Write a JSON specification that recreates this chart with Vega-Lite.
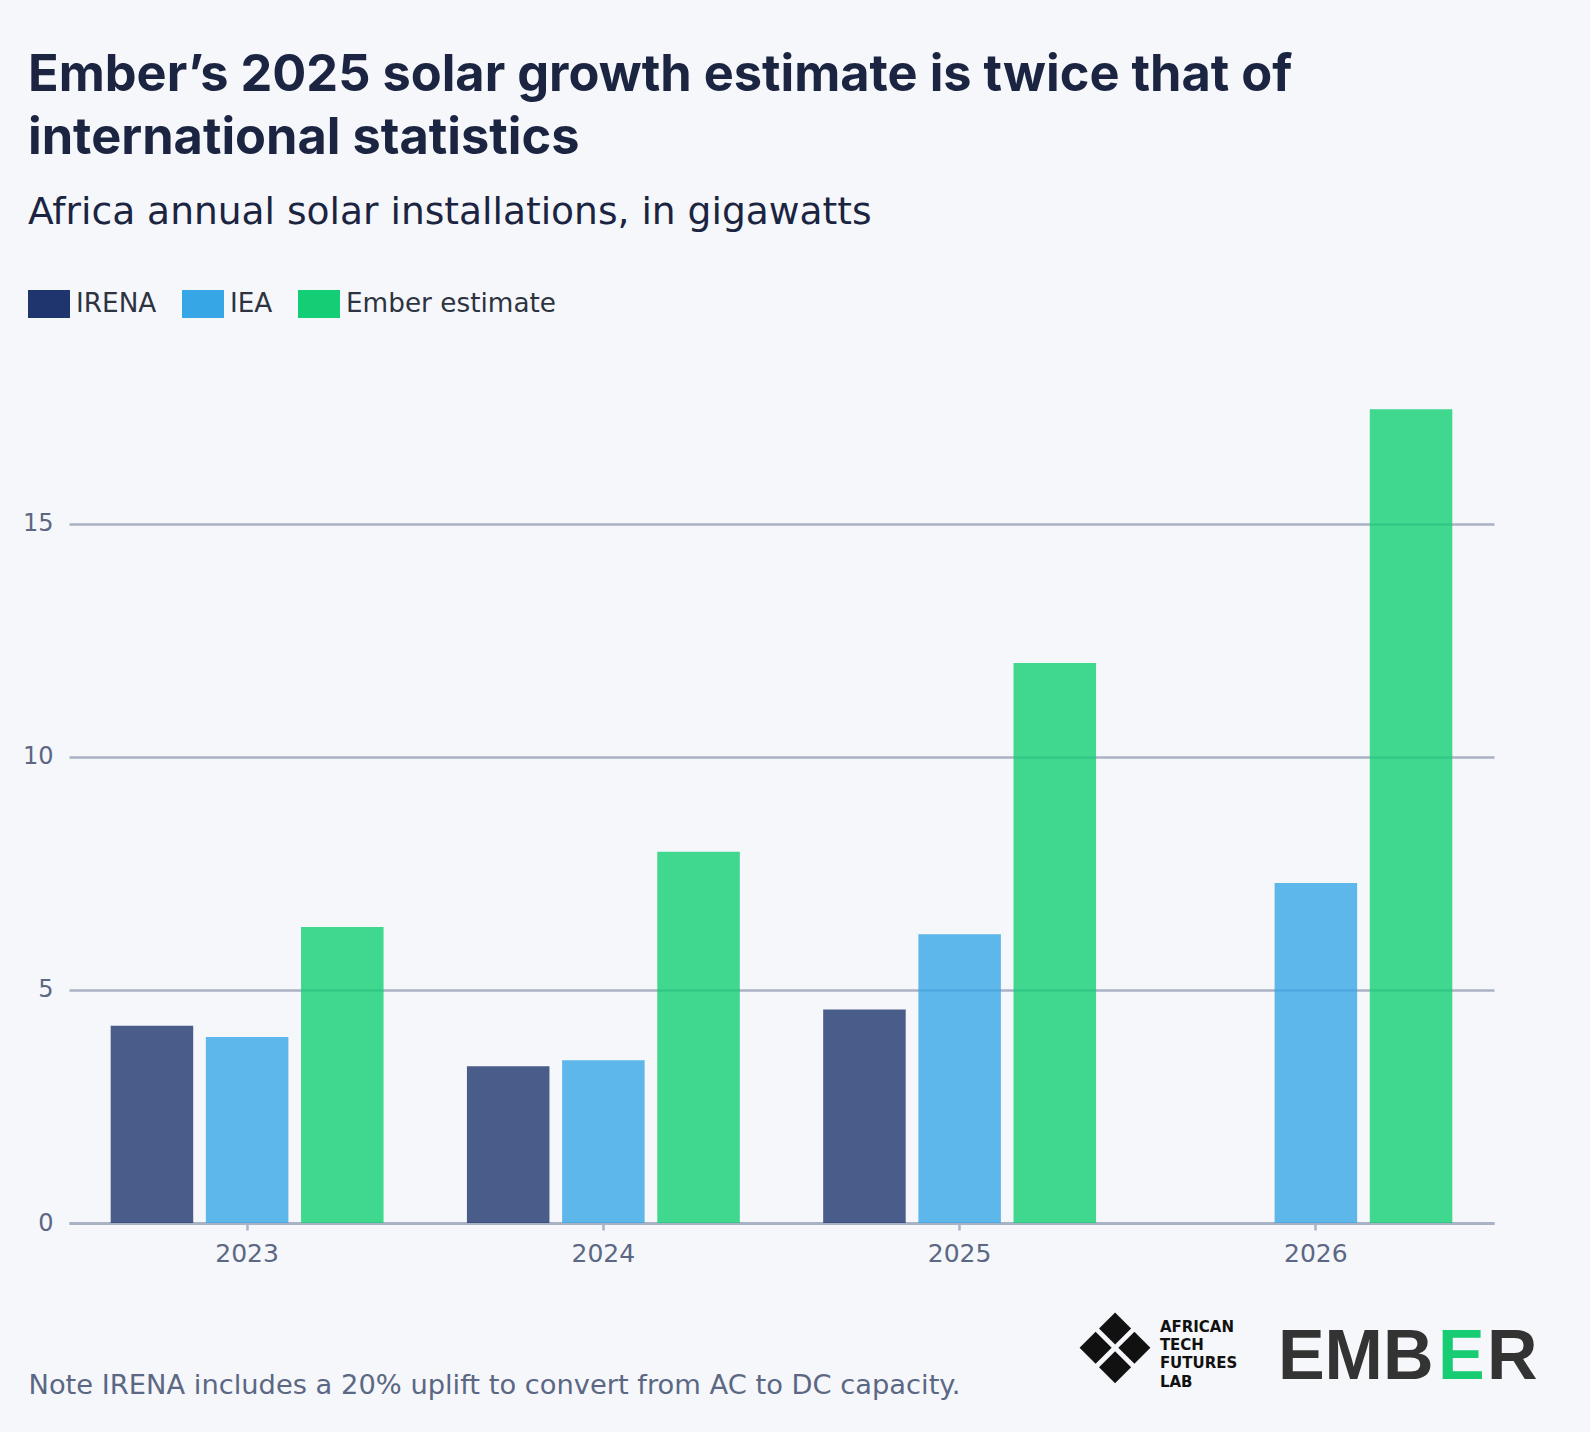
{
  "$schema": "https://vega.github.io/schema/vega-lite/v6.json",
  "autosize": {"type": "none"},
  "width": 1425,
  "height": 816,
  "padding": {"left": 69, "top": 407, "right": 96, "bottom": 209},
  "background": "#f5f7fb",
  "config": {
    "view": {"stroke": null},
    "font": "DejaVu Sans"
  },
  "title": {
    "text": ["Ember’s 2025 solar growth estimate is twice that of", "international statistics"],
    "subtitle": "Africa annual solar installations, in gigawatts",
    "anchor": "start",
    "frame": "group",
    "dx": -41,
    "offset": 58,
    "font": "Inter",
    "fontSize": 50.5,
    "fontWeight": 700,
    "color": "#1b2440",
    "lineHeight": 63,
    "subtitleFont": "DejaVu Sans",
    "subtitleFontSize": 37.6,
    "subtitleFontWeight": 400,
    "subtitleColor": "#1b2440",
    "subtitlePadding": 30
  },
  "layer": [
    {
      "data": {"values": [
        {"year": "2023", "source": "IRENA", "gw": 4.23},
        {"year": "2023", "source": "IEA", "gw": 3.99},
        {"year": "2023", "source": "Ember estimate", "gw": 6.35},
        {"year": "2024", "source": "IRENA", "gw": 3.36},
        {"year": "2024", "source": "IEA", "gw": 3.49},
        {"year": "2024", "source": "Ember estimate", "gw": 7.96},
        {"year": "2025", "source": "IRENA", "gw": 4.58},
        {"year": "2025", "source": "IEA", "gw": 6.19},
        {"year": "2025", "source": "Ember estimate", "gw": 12.01},
        {"year": "2026", "source": "IEA", "gw": 7.29},
        {"year": "2026", "source": "Ember estimate", "gw": 17.45}
      ]},
      "mark": {"type": "bar", "opacity": 0.8},
      "encoding": {
        "x": {
          "field": "year", "type": "nominal",
          "scale": {"paddingInner": 0.234, "paddingOuter": 0.117},
          "axis": {
            "title": "Note IRENA includes a 20% uplift to convert from AC to DC capacity.",
            "titleAnchor": "start", "titleAlign": "left", "titleBaseline": "alphabetic",
            "titleX": -41, "titleY": 170,
            "titleFont": "DejaVu Sans", "titleFontSize": 27.3, "titleFontWeight": 400, "titleColor": "#5c6784",
            "labelAngle": 0, "labelFont": "DejaVu Sans", "labelFontSize": 25, "labelColor": "#5c6784",
            "labelPadding": 11,
            "domain": true, "domainColor": "#aab2c5", "domainWidth": 3,
            "ticks": true, "tickColor": "#aab2c5", "tickWidth": 2.5, "tickSize": 7,
            "grid": false
          }
        },
        "xOffset": {
          "field": "source", "type": "nominal",
          "sort": ["IRENA", "IEA", "Ember estimate"],
          "scale": {"paddingInner": 0.133, "paddingOuter": 0}
        },
        "y": {
          "field": "gw", "type": "quantitative",
          "scale": {"domain": [0, 17.5], "nice": false, "zero": true},
          "axis": {
            "title": null, "values": [0, 5, 10, 15],
            "domain": false, "ticks": false,
            "grid": true, "gridColor": "#aab2c5", "gridWidth": 2.5,
            "labelFont": "DejaVu Sans", "labelFontSize": 24, "labelColor": "#5c6784", "labelPadding": 16
          }
        },
        "color": {
          "field": "source", "type": "nominal",
          "scale": {"domain": ["IRENA", "IEA", "Ember estimate"], "range": ["#1f356e", "#37a6e6", "#13ce74"]},
          "legend": {
            "title": null,
            "orient": "none",
            "legendX": -41,
            "legendY": -117,
            "direction": "horizontal",
            "padding": 0,
            "symbolType": "M-1,-1H2V1H-1Z",
            "symbolSize": 784,
            "symbolStrokeWidth": 0,
            "symbolOpacity": 1,
            "labelFont": "DejaVu Sans",
            "labelFontSize": 26.3,
            "labelColor": "#2d3340",
            "labelOffset": 20,
            "labelLimit": 0,
            "columnPadding": 25
          }
        }
      }
    },
    {
      "data": {"values": [{"logo": "❖"}]},
      "mark": {"type": "text", "align": "center", "baseline": "middle", "font": "DejaVu Sans", "fontSize": 97, "color": "#111111", "dx": -201},
      "encoding": {
        "x": {"datum": "2026", "type": "nominal"},
        "y": {"datum": -2.81, "type": "quantitative"},
        "text": {"field": "logo", "type": "nominal"}
      }
    },
    {
      "data": {"values": [{"logo": "AFRICAN|TECH|FUTURES|LAB"}]},
      "mark": {"type": "text", "align": "left", "baseline": "alphabetic", "font": "DejaVu Sans", "fontWeight": "bold", "fontSize": 15, "lineHeight": 18.3, "lineBreak": "|", "color": "#111111", "dx": -156},
      "encoding": {
        "x": {"datum": "2026", "type": "nominal"},
        "y": {"datum": -2.331, "type": "quantitative"},
        "text": {"field": "logo", "type": "nominal"}
      }
    },
    {
      "data": {"values": [{"logo": "EMB"}]},
      "mark": {"type": "text", "align": "left", "baseline": "alphabetic", "font": "Liberation Sans", "fontWeight": "bold", "fontSize": 70, "color": "#333333", "dx": -38},
      "encoding": {
        "x": {"datum": "2026", "type": "nominal"},
        "y": {"datum": -3.345, "type": "quantitative"},
        "text": {"field": "logo", "type": "nominal"}
      }
    },
    {
      "data": {"values": [{"logo": "E"}]},
      "mark": {"type": "text", "align": "left", "baseline": "alphabetic", "font": "Liberation Sans", "fontWeight": "bold", "fontSize": 70, "color": "#18cc74", "dx": 122},
      "encoding": {
        "x": {"datum": "2026", "type": "nominal"},
        "y": {"datum": -3.345, "type": "quantitative"},
        "text": {"field": "logo", "type": "nominal"}
      }
    },
    {
      "data": {"values": [{"logo": "R"}]},
      "mark": {"type": "text", "align": "left", "baseline": "alphabetic", "font": "Liberation Sans", "fontWeight": "bold", "fontSize": 70, "color": "#333333", "dx": 171},
      "encoding": {
        "x": {"datum": "2026", "type": "nominal"},
        "y": {"datum": -3.345, "type": "quantitative"},
        "text": {"field": "logo", "type": "nominal"}
      }
    }
  ]
}
